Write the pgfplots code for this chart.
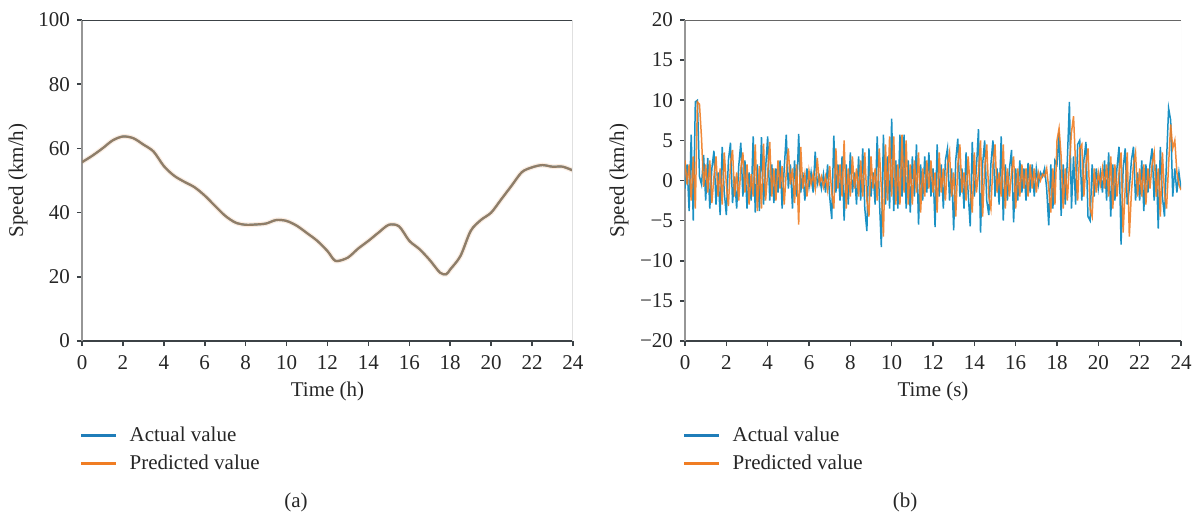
\documentclass[border=0pt]{standalone}
\usepackage{fontspec}
\setmainfont{Liberation Serif}
\usepackage{pgfplots}
\usepackage{pgfplotstable}
\pgfplotsset{compat=1.18}
\definecolor{actblue}{RGB}{31,125,185}
\definecolor{predorange}{RGB}{240,125,35}
\definecolor{axdark}{RGB}{60,66,70}
\definecolor{axgray}{RGB}{150,150,150}

\pgfplotstableread{
x a
0.0 55.7
0.5 57.7
1.0 60.0
1.5 62.5
2.0 63.7
2.5 63.2
3.0 61.2
3.5 59.0
4.0 54.5
4.5 51.5
5.0 49.6
5.5 47.9
6.0 45.3
6.5 42.1
7.0 39.0
7.5 36.9
8.0 36.2
8.5 36.3
9.0 36.6
9.5 37.7
10.0 37.4
10.5 35.9
11.0 33.6
11.5 31.2
12.0 28.0
12.3 25.4
12.5 24.9
13.0 26.0
13.5 28.8
14.0 31.2
14.5 33.8
15.0 36.2
15.5 35.7
16.0 31.2
16.5 28.6
17.0 25.2
17.5 21.3
17.8 20.8
18.0 22.3
18.5 26.5
19.0 34.3
19.5 37.7
20.0 40.0
20.5 44.2
21.0 48.4
21.5 52.6
22.0 54.1
22.5 54.8
23.0 54.3
23.5 54.3
24.0 53.1
}\hourly

\pgfplotstableread{
x a p
0.0 -1.0 2.5
0.1 2.0 -0.5
0.2 -3.8 2.0
0.3 5.7 -2.5
0.4 -5.0 3.0
0.5 9.8 -3.5
0.6 10.0 9.8
0.7 0.5 9.5
0.8 -0.5 5.3
0.9 3.2 -0.8
1.0 -2.5 2.0
1.1 2.8 -1.5
1.2 -3.5 2.5
1.3 1.5 -2.8
1.4 3.7 0.5
1.5 -3.0 3.0
1.6 1.0 -2.0
1.7 -4.3 1.5
1.8 4.2 -3.0
1.9 -1.5 3.5
2.0 -4.3 -0.5
2.1 2.5 -3.2
2.2 4.7 2.0
2.3 -2.8 3.8
2.4 0.5 -2.0
2.5 -3.5 1.0
2.6 1.8 -2.5
2.7 4.7 1.5
2.8 -2.0 3.5
2.9 2.5 -1.5
3.0 -3.5 2.0
3.1 1.0 -3.0
3.2 -2.5 0.8
3.3 5.5 -2.0
3.4 -4.0 4.5
3.5 2.0 -3.8
3.6 -3.8 1.8
3.7 5.4 -3.5
3.8 -3.0 4.6
3.9 1.5 -2.5
4.0 5.5 1.0
4.1 -2.5 4.8
4.2 2.0 -2.0
4.3 -2.8 1.5
4.4 1.5 -2.5
4.5 -1.5 2.5
4.6 2.5 -1.0
4.7 -3.5 1.8
4.8 1.5 -3.0
4.9 5.7 1.0
5.0 -1.0 4.0
5.1 2.0 -0.5
5.2 -3.5 1.5
5.3 2.5 -2.8
5.4 -2.0 2.0
5.5 5.8 -5.5
5.6 -1.5 4.2
5.7 1.0 -1.0
5.8 -2.5 0.8
5.9 1.5 -2.0
6.0 -0.8 1.2
6.1 1.0 -0.5
6.2 -1.5 0.8
6.3 3.6 -1.0
6.4 -0.5 2.8
6.5 0.5 -0.4
6.6 -1.0 0.5
6.7 0.8 -0.8
6.8 -1.5 0.5
6.9 2.0 -1.2
7.0 -2.0 1.8
7.1 -4.8 -1.5
7.2 5.6 -3.5
7.3 -1.5 4.0
7.4 2.0 -1.0
7.5 -2.5 2.0
7.6 3.0 -2.0
7.7 -5.0 5.0
7.8 2.0 -3.5
7.9 -3.0 1.5
8.0 3.5 -2.0
8.1 -1.5 3.0
8.2 1.0 -1.0
8.3 -3.0 1.5
8.4 3.0 -2.0
8.5 -2.5 2.5
8.6 4.0 -2.0
8.7 -3.5 3.5
8.8 -6.3 -2.5
8.9 4.0 -4.5
9.0 -2.0 3.0
9.1 1.0 -1.0
9.2 -3.0 1.5
9.3 5.5 -2.5
9.4 -2.0 4.0
9.5 -8.3 -1.0
9.6 5.7 -7.0
9.7 -3.0 4.5
9.8 3.0 -2.5
9.9 -3.5 5.5
10.0 7.7 -2.0
10.1 -3.8 5.5
10.2 2.5 -3.0
10.3 -3.5 2.0
10.4 5.7 -3.0
10.5 -2.0 5.7
10.6 5.7 -1.5
10.7 -3.5 5.0
10.8 2.5 -3.0
10.9 -4.0 2.0
11.0 3.0 -3.0
11.1 -2.0 2.5
11.2 4.5 -1.5
11.3 -5.5 3.5
11.4 2.0 -4.0
11.5 -2.5 1.5
11.6 3.0 -2.0
11.7 -1.5 2.5
11.8 3.5 -1.0
11.9 -2.0 2.5
12.0 1.5 -1.5
12.1 -5.8 1.0
12.2 4.5 -4.0
12.3 -2.0 3.5
12.4 2.0 -1.5
12.5 -3.5 1.5
12.6 2.5 -2.5
12.7 4.0 2.0
12.8 -2.5 3.5
12.9 1.5 -2.0
13.0 -6.2 1.0
13.1 2.5 -4.5
13.2 5.2 2.0
13.3 -2.0 4.5
13.4 1.5 -1.5
13.5 -3.5 1.0
13.6 3.5 -2.5
13.7 -1.5 3.0
13.8 -5.7 -1.0
13.9 4.8 -4.0
14.0 -2.0 3.5
14.1 1.5 -1.5
14.2 6.4 1.0
14.3 -6.5 5.0
14.4 2.0 -4.5
14.5 5.0 1.5
14.6 -2.5 4.5
14.7 -4.3 -2.0
14.8 2.0 -3.5
14.9 5.0 2.0
15.0 -2.0 4.5
15.1 1.5 -1.5
15.2 -3.0 1.0
15.3 5.5 -2.0
15.4 -5.0 4.5
15.5 2.0 -3.5
15.6 -2.5 1.5
15.7 1.5 -2.0
15.8 3.8 1.0
15.9 -5.2 3.0
16.0 1.5 -3.5
16.1 -2.5 1.5
16.2 2.5 -2.0
16.3 -1.5 2.0
16.4 1.5 -1.0
16.5 -2.5 1.5
16.6 2.2 -2.0
16.7 -1.5 2.0
16.8 2.0 -1.0
16.9 -2.0 1.5
17.0 1.5 -1.5
17.1 -0.5 1.0
17.2 1.0 0.0
17.3 0.5 0.8
17.4 1.5 0.5
17.5 -1.0 1.5
17.6 -5.6 -1.0
17.7 2.0 -4.0
17.8 -3.5 1.5
17.9 2.5 -3.0
18.0 2.0 5.0
18.1 6.0 6.5
18.2 -4.4 3.0
18.3 2.0 -3.5
18.4 -3.0 1.5
18.5 2.5 -2.5
18.6 9.8 2.0
18.7 -3.5 6.0
18.8 3.0 8.0
18.9 -3.0 2.0
19.0 4.5 -2.5
19.1 5.0 4.0
19.2 -2.5 4.5
19.3 2.5 -2.0
19.4 4.8 2.0
19.5 -4.5 4.0
19.6 -5.0 -3.5
19.7 2.0 -4.5
19.8 -2.0 1.5
19.9 1.5 -1.5
20.0 -1.0 1.0
20.1 1.0 -0.5
20.2 -1.5 1.5
20.3 2.5 -1.0
20.4 -2.5 2.0
20.5 3.5 -2.0
20.6 -4.5 3.0
20.7 2.0 -3.5
20.8 -2.5 2.0
20.9 1.5 -2.0
21.0 4.2 1.0
21.1 -8.0 3.5
21.2 1.5 -6.5
21.3 4.0 -1.0
21.4 -3.0 3.5
21.5 -1.0 -7.0
21.6 2.5 -1.5
21.7 4.2 2.0
21.8 -2.5 3.5
21.9 1.0 -2.0
22.0 -2.5 1.5
22.1 2.5 -2.0
22.2 -3.8 2.0
22.3 2.0 -3.0
22.4 -1.5 1.5
22.5 2.0 -1.0
22.6 4.0 2.0
22.7 -2.5 3.5
22.8 2.0 -2.0
22.9 -6.0 1.5
23.0 4.2 -4.5
23.1 -2.0 3.5
23.2 -4.5 -1.5
23.3 2.5 -3.5
23.4 9.0 2.0
23.5 7.5 7.0
23.6 -2.0 4.0
23.7 1.5 5.0
23.8 -1.5 1.0
23.9 1.0 -0.5
24.0 -1.0 -1.2
}\residual

\pgfplotsset{
  panel/.style={
    scale only axis,
    width=245.5pt, height=160.5pt,
    anchor=south west,
    axis x line*=bottom, axis y line*=left,
    x axis line style={draw=axdark, line width=1pt},
    y axis line style={draw=axgray, line width=0.7pt},
    tick align=outside,
    major tick length=2.5pt,
    tick style={axdark, line width=0.8pt},
    xmin=0, xmax=24, xtick={0,2,...,24},
    ticklabel style={font=\fontsize{10.5}{12}\selectfont, text=black!85},
    xticklabel style={yshift=-1.2pt},
    label style={font=\fontsize{10.5}{12}\selectfont, text=black!85},
    /pgf/number format/assume math mode=true,
    xlabel style={at={(axis description cs:0.5,-0.156)}, anchor=center},
    legend cell align=left,
    legend style={draw=none, fill=none, anchor=north west,
      font=\fontsize{10.5}{12}\selectfont, text=black!85,
      inner sep=0pt, row sep=2pt,
      nodes={inner sep=1.5pt}},
    legend image code/.code={\draw[#1, line width=1.3pt, opacity=1] (0pt,0pt) -- (17.5pt,0pt); \path (22.5pt,0pt);},
  },
}

\begin{document}
\begin{tikzpicture}
\path[use as bounding box] (0,0) rectangle (600pt,257.5pt);

\begin{axis}[panel,
  at={(41pt,87pt)},
  ymin=0, ymax=100, ytick={0,20,...,100},
  xlabel={Time (h)}, ylabel={Speed (km/h)},
  ylabel style={at={(axis description cs:-0.13,0.5)}, anchor=center},
  legend style={at={(axis description cs:-0.005,-0.257)}},
]
\addlegendimage{actblue}
\addlegendentry{Actual value}
\addlegendimage{predorange}
\addlegendentry{Predicted value}
\addplot[forget plot, predorange, opacity=0.15, line width=2.4pt, smooth] table[x=x,y=a] {\hourly};
\addplot[forget plot, actblue, line width=1.1pt, smooth] table[x=x,y=a] {\hourly};
\addplot[forget plot, predorange, opacity=0.55, line width=1.1pt, smooth] table[x=x,y=a] {\hourly};
\draw[axdark, line width=0.8pt] (rel axis cs:0,1) -- (rel axis cs:1,1);
\draw[black!12, line width=0.5pt] (rel axis cs:1,0) -- (rel axis cs:1,1);
\end{axis}

\begin{axis}[panel,
  at={(342.5pt,87pt)}, width=248pt,
  ymin=-20, ymax=20, ytick={-20,-15,...,20},
  yticklabels={−20,−15,−10,−5,0,5,10,15,20},
  xlabel={Time (s)}, ylabel={Speed (km/h)},
  ylabel style={at={(axis description cs:-0.133,0.5)}, anchor=center},
  legend style={at={(axis description cs:-0.005,-0.257)}},
]
\addlegendimage{actblue}
\addlegendentry{Actual value}
\addlegendimage{predorange}
\addlegendentry{Predicted value}
\addplot[forget plot, actblue!85!cyan, line width=0.75pt] table[x=x,y=a] {\residual};
\addplot[forget plot, predorange, line width=0.75pt, opacity=0.9] table[x=x,y=p] {\residual};
\draw[black!60, line width=1.4pt] (rel axis cs:0,1) -- (rel axis cs:1,1);
\draw[black!6, line width=0.5pt] (rel axis cs:1,0) -- (rel axis cs:1,1);
\end{axis}

\node[font=\fontsize{10.5}{12}\selectfont, text=black!85] at (148pt,6.5pt) {(a)};
\node[font=\fontsize{10.5}{12}\selectfont, text=black!85] at (452.5pt,6.5pt) {(b)};
\end{tikzpicture}
\end{document}
